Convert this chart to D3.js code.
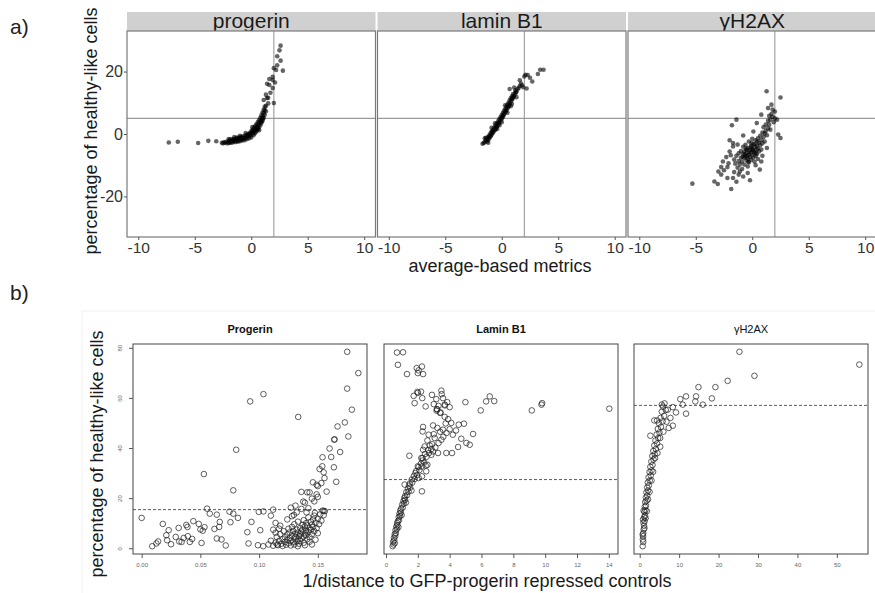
<html>
<head>
<script src="https://d3js.org/d3.v7.min.js"></script>
<style>
body { margin: 0; background: #fff; }
svg { font-family: "Liberation Sans", Arial, sans-serif; }
</style>
</head>
<body>
<svg class="chart" width="875" height="593"></svg>
<script>
// ---- panel a: average-based metrics ----
const facetsA = ["progerin", "lamin B1", "\u03b3H2AX"];
const xTicksA = [-10, -5, 0, 5, 10];
const yTicksA = [-20, 0, 20];
const vlineA = 2, hlineA = 5;

const progerinA = [[-7.3,-2.7],[-6.5,-2.5],[-4.7,-2.9],[-3.8,-2.2],[-3.1,-2.3],[-2.6,-2.8],[-2.5,-3.0],[-2.4,-2.6],
[-2.3,-2.9],[-2.2,-2.5],[-2.1,-3.0],[-2.0,-2.2],[-2.0,-2.7],[-1.9,-2.9],[-1.9,-2.0],[-1.8,-2.4],[-1.8,-1.6],[-1.7,-2.8],[-1.7,-2.1],[-1.6,-1.8],[-1.6,-2.5],[-1.5,-2.2],[-1.5,-1.5],[-1.4,-2.6],[-1.4,-1.9],[-1.3,-1.4],[-1.3,-2.2],[-1.2,-1.7],[-1.2,-2.5],[-1.1,-1.2],[-1.1,-2.0],[-1.0,-1.5],[-1.0,-2.3],[-0.9,-0.9],[-0.9,-1.8],[-0.8,-1.3],[-0.8,-2.1],[-0.7,-0.7],[-0.7,-1.6],[-0.6,-1.1],[-0.6,-2.0],[-0.5,-0.4],[-0.5,-1.3],[-0.4,-0.8],[-0.4,-1.7],[-0.3,0.0],[-0.3,-1.0],[-0.2,-0.5],[-0.2,-1.4],[-0.1,0.4],[-0.1,-0.6],[0.0,0.9],[0.0,-0.2],[0.0,-1.1],[0.1,0.3],[0.1,1.3],[0.2,-0.4],[0.2,0.8],[0.2,1.8],[0.3,0.2],[0.3,1.2],[0.3,2.3],[0.4,0.6],[0.4,1.7],[0.4,2.8],[0.5,1.1],[0.5,2.2],[0.5,3.3],[0.6,1.6],[0.6,2.7],[0.6,3.9],[0.7,2.1],[0.7,3.3],[0.7,4.5],[0.8,2.8],[0.8,4.0],[0.8,5.2],[0.9,3.5],[0.9,4.8],[0.9,6.0],[1.0,4.3],[1.0,5.6],[1.0,6.9],[1.1,5.2],[1.1,6.6],[1.1,7.8],[1.2,6.2],[1.2,7.7],[1.2,8.8],[1.3,7.3],[1.3,9.0],[-1.0,-0.6],[-0.5,0.3],[-1.5,-1.0],[0.1,2.2],[-2.0,-1.6],[0.7,1.2],
[-0.85,-1.1],[-0.35,-0.3],[0.15,0.6],[0.55,1.9],[0.85,3.9],[1.05,5.0],[-1.25,-1.1],[-0.15,0.1],[0.45,1.4],[0.95,4.1],
[1.1,10.9],[1.3,12.6],[1.5,11.6],[1.4,11.5],[2.0,9.9],[1.9,14.7],[1.6,15.7],[1.4,16.1],[1.9,17.3],[1.6,17.6],[1.9,18.3],[2.0,21.1],[2.2,20.5],[2.8,20.3],[2.3,24.9],[2.6,23.5],[2.5,26.8],[2.6,28.3],[1.7,13.2],[2.1,16.5],[1.5,9.8],[2.3,22.0]];

const laminA = [[-1.7,-3.1],[-1.5,-2.6],[-1.4,-2.0],[-1.4,-1.2],[-1.3,-2.4],[-1.3,-1.5],[-1.2,-0.9],[-1.2,-1.9],[-1.1,-0.4],[-1.1,-1.4],[-1.0,-0.8],[-1.0,0.2],[-0.9,-0.2],[-0.9,0.8],[-0.8,0.3],[-0.8,1.2],[-0.7,0.8],[-0.7,1.8],[-0.6,1.3],[-0.6,2.4],[-0.5,2.0],[-0.5,3.0],[-0.4,2.5],[-0.4,3.6],[-0.3,3.2],[-0.3,4.2],[-0.2,3.7],[-0.2,4.9],[-0.1,4.4],[-0.1,5.4],[0.0,5.0],[0.0,6.1],[0.1,5.6],[0.1,6.7],[0.2,6.3],[0.2,7.4],[0.3,6.9],[0.3,8.0],[0.4,7.6],[0.4,8.7],[0.5,8.2],[0.5,9.4],[0.6,8.9],[0.6,10.0],[0.7,9.6],[0.7,10.8],[0.8,10.3],[0.8,11.4],[0.9,11.0],[0.9,12.1],[1.0,11.7],[1.0,12.8],[1.1,12.4],[1.2,13.1],[1.2,14.0],[1.3,13.6],[1.4,14.3],[1.5,14.8],[1.6,15.4],[1.7,16.2],[1.8,15.6],[-1.6,-2.9],[-0.6,3.4],[0.7,14.4],[-0.9,2.0],[0.3,9.2],[1.3,11.8],[0.9,9.6],[-0.2,2.8],
[-1.15,-1.1],[-0.85,0.5],[-0.55,1.6],[-0.25,3.5],[0.05,5.3],[0.35,7.3],[0.65,9.3],[0.95,11.3],[1.25,13.3],[-0.95,-0.5],[-0.45,2.4],[0.15,6.0],[0.55,8.6],[1.05,12.0],
[2.0,18.4],[2.3,18.9],[2.5,18.0],[2.1,19.0],[3.2,19.2],[3.4,20.6],[3.7,20.6],[2.7,16.8],[1.6,17.2],[2.2,14.6],[1.9,15.0],[-1.2,-2.8],[-0.4,1.6],[0.5,6.8],[1.1,14.9],[-1.5,-1.4],[0.0,3.8],[0.8,8.9]];

const h2axA = [[1.27,13.7],[2.5,11.7],[1.7,9.4],[1.4,8.3],[0.8,6.2],[2.0,7.2],[2.2,4.6],[-1.4,4.6],[-1.8,2.8],[0.4,3.5],[1.6,1.4],[2.3,-0.2],[2.5,-1.3],[-1.7,-2.9],[-1.3,-3.4],[-0.07,-2.9],[-0.5,-5],[0.4,-5],[-2.0,-5.6],[-1.6,-8.2],[-0.7,-7.7],[0.2,-6.1],[0.8,-8.8],[-2.6,-8.8],[-2.75,-10.6],[-2.2,-10.6],[-0.4,-10.4],[-1.1,-12],[-2.75,-13],[-2.2,-14.1],[-1.7,-14.1],[-0.8,-13.6],[-3.35,-15.2],[-3.05,-16],[-5.3,-15.9],[-1.86,-17.6],[0.67,-11.4],
[-1.5,-9.5],[-1.4,-7.0],[-1.3,-10.8],[-1.2,-6.2],[-1.2,-8.7],[-1.1,-9.8],[-1.0,-5.5],[-1.0,-7.6],[-0.9,-11.2],[-0.9,-8.9],[-0.8,-6.4],[-0.8,-4.1],[-0.7,-9.8],[-0.7,-5.6],[-0.6,-7.2],[-0.6,-3.5],[-0.5,-8.4],[-0.5,-6.1],[-0.4,-4.5],[-0.4,-7.8],[-0.3,-6.6],[-0.3,-2.4],[-0.3,-9.1],[-0.2,-5.2],[-0.2,-7.4],[-0.1,-3.8],[-0.1,-6.0],[-0.1,-8.3],[0.0,-4.7],[0.0,-6.8],[0.0,-1.5],[0.1,-5.5],[0.1,-7.6],[0.1,-3.2],[0.2,-4.2],[0.2,-8.9],[0.3,-5.9],[0.3,-2.0],[0.3,-7.0],[0.4,-3.8],[0.4,-6.5],[0.5,-1.4],[0.5,-4.6],[0.5,-8.0],[0.6,-2.8],[0.6,-5.6],[0.7,-0.6],[0.7,-3.6],[0.8,-1.9],[0.8,-5.0],[0.9,0.5],[0.9,-3.0],[1.0,-1.0],[1.0,2.2],[1.1,0.2],[1.1,-2.4],[1.2,3.0],[1.2,1.0],[1.3,-0.4],[1.4,4.2],[1.4,1.8],[1.5,5.8],[1.5,3.0],[1.6,4.6],[1.7,6.4],[1.8,5.5],[1.9,3.8],[1.8,7.8],[2.0,5.0],[-1.9,-6.8],[-2.1,-9.4],[-2.3,-7.4],[-1.6,-12.2],[-1.2,-13.0],[-0.4,-12.5],[-2.5,-11.6],[0.3,-10.0],[-1.7,-4.0],[-2.0,-2.0],[-0.8,-0.5],[0.1,0.8],[1.3,-4.5],[0.9,-7.0],[-3.0,-12.0],[-1.4,-15.3],[-0.2,-14.8],
[-0.65,-6.6],[-0.25,-5.8],[0.05,-5.1],[-0.45,-7.0],[-0.15,-4.3],[0.25,-3.3],[-0.55,-4.9],[-0.85,-7.3],[0.45,-2.4],[-0.35,-8.9]];

// ---- panel b: 1/distance to GFP-progerin repressed controls ----
const facetsB = ["Progerin", "Lamin B1", "\u03b3H2AX"];
const boldB = [true, true, false];
const thresholdsB = [15.4, 27.4, 57];
const yTicksB = [0, 20, 40, 60, 80];
const xTicksB = [[0, 0.05, 0.10, 0.15], [0, 2, 4, 6, 8, 10, 12, 14], [0, 10, 20, 30, 40, 50]];
const xFormatB = [".2f", "d", "d"];

const progerinB = [[0.0,12.1],[0.009,0.8],[0.0125,1.9],[0.014,2.7],[0.018,9.7],[0.021,5.2],[0.023,7.2],[0.0217,3.2],[0.025,1.6],[0.029,4.5],[0.0315,8.1],[0.032,2.7],[0.034,2.5],[0.0358,4.1],[0.038,9.3],[0.039,8.5],[0.0393,4.8],[0.041,2.5],[0.043,3.7],[0.044,10.8],[0.0486,9.7],[0.05,7.5],[0.051,2.1],[0.053,29.6],[0.0535,8.4],[0.052,7.0],[0.0557,15.8],[0.058,13.8],[0.062,7.7],[0.064,13.4],[0.064,3.9],[0.066,8.5],[0.0665,10.5],[0.068,3.5],[0.0716,1.1],[0.0748,14.6],[0.0756,10.4],[0.078,13.8],[0.078,23.1],[0.0805,39.3],[0.082,12.1],[0.09,6.4],[0.091,1.9],[0.0924,58.6],[0.0935,10.5],[0.099,1.2],[0.0997,14.5],[0.101,7.2],[0.1037,61.5],[0.1037,14.7],[0.1035,0.8],[0.11,13],[0.112,15.4],[0.112,7.4],[0.114,10.1],[0.1333,52.4],[0.1154,1.5],
[0.175,78.4],[0.1845,69.9],[0.175,63.7],[0.179,55.3],[0.173,50.2],[0.1668,48.6],[0.176,44.6],[0.164,43.3],[0.1642,43.5],[0.169,38.4],[0.16,39.8],[0.1614,36.4],[0.154,36.3],[0.1637,32.3],[0.1538,32.7],[0.1515,31.6],[0.155,30.3],[0.1557,28],[0.1657,26.5],[0.1575,22.6],[0.1458,26.3],[0.149,25.3],[0.15,20.5],[0.136,22.5],[0.143,22.3],[0.1376,18.6],[0.131,17],[0.147,18.7],[0.155,14.9],[0.155,13.2],[0.1475,14.1],[0.1296,13.3],[0.1404,14.3],
[0.108,1.5],[0.110,3.0],[0.112,1.0],[0.114,2.2],[0.115,4.5],[0.116,1.2],[0.117,2.9],[0.118,5.6],[0.119,1.8],[0.120,3.6],[0.120,0.9],[0.121,6.8],[0.122,2.5],[0.122,4.4],[0.123,1.4],[0.124,3.3],[0.124,5.5],[0.125,7.8],[0.125,2.0],[0.126,4.1],[0.126,6.3],[0.127,1.1],[0.127,3.0],[0.128,5.1],[0.128,8.5],[0.129,2.4],[0.129,6.9],[0.130,3.9],[0.130,1.5],[0.130,9.6],[0.131,5.8],[0.131,4.6],[0.132,2.7],[0.132,7.4],[0.133,3.5],[0.133,6.2],[0.133,10.6],[0.134,1.8],[0.134,4.9],[0.135,8.1],[0.135,5.5],[0.135,2.9],[0.136,6.7],[0.136,3.9],[0.137,9.3],[0.137,7.5],[0.138,4.7],[0.138,11.2],[0.138,2.2],[0.139,6.0],[0.139,8.7],[0.140,5.2],[0.140,7.0],[0.140,10.0],[0.141,3.6],[0.141,9.1],[0.142,6.5],[0.142,12.3],[0.143,8.0],[0.143,4.4],[0.144,10.6],[0.144,7.3],[0.145,9.4],[0.145,5.6],[0.146,11.5],[0.146,8.5],[0.147,6.8],[0.147,13.0],[0.148,10.2],[0.149,8.0],[0.150,11.8],[0.150,6.0],[0.151,9.6],[0.152,13.5],[0.153,11.0],[0.154,15.0],[0.118,9.0],[0.124,11.5],[0.128,12.8],[0.132,14.3],[0.127,16.2],[0.136,15.7],[0.139,18.2],[0.142,16.0],[0.145,19.8],[0.141,22.3],[0.149,21.5],[0.150,24.8],[0.153,26.0],[0.114,6.2],[0.117,7.8],[0.133,0.8],[0.139,1.2],[0.143,2.6],[0.145,1.5],[0.148,3.4],[0.156,14.8]];

const laminB = [[0.69,78.1],[1.07,78.2],[0.75,73.2],[1.32,69.5],[1.93,71.9],[2.26,72.5],[2.0,69.9],[2.33,69.5],[2.05,71],[1.97,62.4],[2.0,62.0],[1.74,60.8],[1.8,57.9],[2.28,59.9],[2.49,56.6],[2.89,61.2],[3.48,62.9],[3.16,59.5],[3.58,59.9],[3.85,58.3],[3.18,54.9],[3.22,55.4],[3.69,57.3],[4.0,56.3],[3.43,54.2],[3.69,52.4],[4.99,58.3],[5.95,55],[6.29,58.6],[6.52,60.6],[6.8,58.7],[9.16,55],[9.77,57.3],[9.81,57.9],[14.03,55.7],
[3.2,55.5],[3.3,56.8],[3.0,57.5],[3.5,61.5],[3.7,57.0],[3.4,54.0],[2.2,62.5],
[2.33,48.4],[2.3,46.6],[2.96,49],[3.23,48],[3.58,47.3],[4.1,50],[4.57,49.3],[4.9,49.7],[4.0,47.5],[4.2,45.3],[4.73,43.7],[5.05,42],[5.26,41.3],[5.47,45.6],[4.53,40.4],[3.79,38],[4.15,38],[2.68,45.3],[3.06,44],[3.48,43.3],[2.43,40.6],[2.33,39.3],[2.85,37.3],[3.27,38],[2.6,33.3],[2.22,36],[1.47,36.9],[2.0,32.7],[2.53,30.7],[2.26,28.7],[2.26,22.7],[1.17,25.4],
[3.0,45.5],[3.4,46.5],[3.8,46.0],[3.3,42.0],[2.9,41.5],[3.6,44.5],[4.4,47.0],[3.9,51.5],[3.75,49.8],[2.6,43.0],
[0.42,0.8],[0.47,1.5],[0.45,2.6],[0.52,3.2],[0.50,4.2],[0.58,4.8],[0.55,2.0],
[0.55,5.6],[0.62,6.0],[0.60,7.2],[0.68,7.6],[0.65,8.6],[0.72,9.2],[0.78,8.4],[0.70,10.0],
[0.75,10.8],[0.82,11.2],[0.80,12.4],[0.88,12.8],[0.85,13.8],[0.93,14.2],[0.98,13.2],[0.90,15.0],
[0.95,15.8],[1.05,16.2],[1.02,17.4],[1.12,17.8],[1.10,18.8],[1.20,19.3],[1.25,18.2],[1.15,20.0],
[1.20,20.8],[1.32,21.2],[1.28,22.4],[1.42,22.6],[1.38,23.8],[1.52,24.2],[1.60,23.0],[1.45,25.0],
[1.50,25.8],[1.65,26.2],[1.62,27.4],[1.80,27.6],[1.75,28.8],[1.95,29.2],[2.05,28.0],[1.85,30.0],
[1.90,30.8],[2.10,31.2],[2.05,32.4],[2.25,32.6],[2.20,33.8],[2.40,34.2],[2.50,33.0],[2.30,35.0],
[2.30,36.0],[2.55,36.5],[2.45,37.6],[2.70,38.0],[2.65,39.2],[2.85,39.6],[2.95,38.6],[2.75,41.0],[3.1,40.2]];

const h2axB = [[25.3,78.4],[55.7,73.3],[29.1,68.8],[22.3,66.8],[19.2,64.3],[14.9,64.3],[18.3,59.8],[14.3,60.6],[14.1,58.6],[16.0,57.3],[11.75,60.6],[10.3,59.5],[10.9,57.3],[11.75,53.7],
[0.76,0.8],[0.8,3.5],[0.85,4.8],[0.9,6.0],[0.75,5.5],[1.0,7.5],[1.1,9.0],[0.95,10.2],[1.25,10.8],[1.15,12.4],[1.35,13.0],[1.2,14.5],[1.45,15.2],[1.3,16.6],[1.6,17.0],[1.4,18.4],[1.75,19.0],[1.55,20.2],[1.9,21.0],[1.7,22.3],[2.1,23.0],[1.9,24.2],[2.3,25.0],[2.05,26.2],[2.55,27.0],[2.25,28.3],[2.8,29.0],[2.5,30.4],[3.0,31.0],[2.7,32.5],[3.25,33.2],[2.95,34.6],[3.5,35.4],[3.2,36.8],[3.8,37.5],[3.45,38.8],[4.1,39.6],[3.7,41.0],[4.4,41.8],[4.0,43.0],[4.7,44.0],[4.3,45.4],[5.0,46.2],[4.6,47.6],[5.4,48.4],[4.9,49.8],[5.8,50.6],[5.3,52.0],[6.2,52.8],[5.6,54.5],[6.6,55.2],[5.9,56.5],[3.7,51.0],[4.4,51.0],[2.7,44.9],[5.6,57.3],[7.1,55.3],[8.4,56.3],[9.2,54.2],[8.4,48.9],[7.35,48.0],[6.8,50.5],[7.8,52.0],[6.0,46.5],[5.2,44.0],[3.9,36.0],[2.1,19.5],[1.5,12.0],[1.2,8.0],[0.9,2.5],[3.0,27.0],[1.0,15.0],[0.85,11.5],[6.3,57.8],[5.2,40.5],[4.5,38.0],[3.4,30.5],[2.5,22.5],[1.8,14.8]];

const dataA = [progerinA, laminA, h2axA];
const dataB = [progerinB, laminB, h2axB];

const svg = d3.select(".chart");
const minus = d => d < 0 ? "-" + Math.abs(d) : String(d);

// ===== a) =====
const aLeft = [127, 377.5, 628], aW = 248.5, aTop = 31, aH = 206, stripTop = 12;
const xA = d3.scaleLinear().domain([-11, 11]).range([0, aW]);
const yA = d3.scaleLinear().domain([-33, 33]).range([aH, 0]);

facetsA.forEach(function(name, i) {
  const g = svg.append("g").attr("transform", "translate(" + aLeft[i] + ",0)");
  g.append("rect").attr("x", 0).attr("y", stripTop).attr("width", aW).attr("height", aTop - stripTop)
    .attr("fill", "#d0d0d0");
  g.append("text").attr("x", aW / 2).attr("y", 27.5).attr("text-anchor", "middle")
    .attr("font-size", 21).attr("fill", "#1a1a1a").text(name);
  const p = g.append("g").attr("transform", "translate(0," + aTop + ")");
  p.append("rect").attr("width", aW).attr("height", aH).attr("fill", "#fff");
  p.append("line").attr("x1", 0).attr("x2", aW).attr("y1", yA(hlineA)).attr("y2", yA(hlineA))
    .attr("stroke", "#9a9a9a").attr("stroke-width", 1.1);
  p.append("line").attr("x1", xA(vlineA)).attr("x2", xA(vlineA)).attr("y1", 0).attr("y2", aH)
    .attr("stroke", "#9a9a9a").attr("stroke-width", 1.1);
  p.selectAll("circle").data(dataA[i]).enter().append("circle")
    .attr("cx", d => xA(d[0])).attr("cy", d => yA(d[1])).attr("r", 2.3)
    .attr("fill", "#000").attr("fill-opacity", 0.6);
  p.append("rect").attr("width", aW).attr("height", aH).attr("fill", "none")
    .attr("stroke", "#7a7a7a").attr("stroke-width", 1.2);

  const ax = p.append("g").attr("transform", "translate(0," + aH + ")")
    .call(d3.axisBottom(xA).tickValues(xTicksA).tickFormat(minus).tickSize(3).tickPadding(1.5));
  ax.select(".domain").remove();
  ax.selectAll("line").attr("stroke", "#555");
  ax.selectAll("text").attr("font-size", 15.5).attr("fill", "#333").attr("font-family", null);

  if (i === 0) {
    const ay = p.append("g")
      .call(d3.axisLeft(yA).tickValues(yTicksA).tickFormat(minus).tickSize(3).tickPadding(1));
    ay.select(".domain").remove();
    ay.selectAll("line").attr("stroke", "#555");
    ay.selectAll("text").attr("font-size", 16).attr("fill", "#333").attr("font-family", null);
  }
});

svg.append("text").attr("x", 500).attr("y", 272).attr("text-anchor", "middle")
  .attr("font-size", 18).attr("fill", "#1a1a1a").text("average-based metrics");
svg.append("text").attr("transform", "translate(97,131) rotate(-90)").attr("text-anchor", "middle")
  .attr("font-size", 18).attr("fill", "#1a1a1a").text("percentage of healthy-like cells");
svg.append("text").attr("x", 10).attr("y", 34).attr("font-size", 21).attr("fill", "#222").text("a)");

// ===== b) =====
svg.append("rect").attr("x", 82).attr("y", 311).attr("width", 800).attr("height", 300)
  .attr("fill", "none").attr("stroke", "#f1f1f1");

const bLeft = [133, 384, 634], bW = 234, bTop = 344, bH = 210;
const allY = dataB.flat().map(d => d[1]);
const padR = (lo, hi) => [lo - (hi - lo) * 0.04, hi + (hi - lo) * 0.04];
const yB = d3.scaleLinear().domain(padR(d3.min(allY), d3.max(allY))).range([bH, 0]);

facetsB.forEach(function(name, i) {
  const ext = d3.extent(dataB[i], d => d[0]);
  const xB = d3.scaleLinear().domain(padR(ext[0], ext[1])).range([0, bW]);
  const g = svg.append("g").attr("transform", "translate(" + bLeft[i] + "," + bTop + ")");

  g.append("text").attr("x", bW / 2).attr("y", -11).attr("text-anchor", "middle")
    .attr("font-size", 11).attr("font-weight", boldB[i] ? "bold" : "normal")
    .attr("fill", "#111").text(name);

  g.append("line").attr("x1", 0).attr("x2", bW).attr("y1", yB(thresholdsB[i])).attr("y2", yB(thresholdsB[i]))
    .attr("stroke", "#333").attr("stroke-width", 0.8).attr("stroke-dasharray", "3,2");

  g.selectAll("circle").data(dataB[i]).enter().append("circle")
    .attr("cx", d => xB(d[0])).attr("cy", d => yB(d[1])).attr("r", 2.8)
    .attr("fill", "none").attr("stroke", "#222").attr("stroke-opacity", 0.85).attr("stroke-width", 0.85);

  g.append("rect").attr("width", bW).attr("height", bH).attr("fill", "none")
    .attr("stroke", "#444").attr("stroke-width", 1);

  const ax = g.append("g").attr("transform", "translate(0," + bH + ")")
    .call(d3.axisBottom(xB).tickValues(xTicksB[i]).tickFormat(d3.format(xFormatB[i])).tickSize(4).tickPadding(5));
  ax.select(".domain").remove();
  ax.selectAll("line").attr("stroke", "#555");
  ax.selectAll("text").attr("font-size", 6).attr("fill", "#666").attr("font-family", null);

  if (i === 0) {
    const ay = g.append("g")
      .call(d3.axisLeft(yB).tickValues(yTicksB).tickSize(4).tickFormat(d3.format("d")));
    ay.select(".domain").remove();
    ay.selectAll("line").attr("stroke", "#555");
    ay.selectAll("text").attr("font-size", 6).attr("fill", "#666").attr("font-family", null)
      .attr("text-anchor", "middle").attr("x", 0).attr("dy", 0)
      .attr("transform", "translate(-11,0) rotate(-90)");
  }
});

svg.append("text").attr("x", 487).attr("y", 587).attr("text-anchor", "middle")
  .attr("font-size", 18).attr("fill", "#1a1a1a").text("1/distance to GFP-progerin repressed controls");
svg.append("text").attr("transform", "translate(103,454) rotate(-90)").attr("text-anchor", "middle")
  .attr("font-size", 18).attr("fill", "#1a1a1a").text("percentage of healthy-like cells");
svg.append("text").attr("x", 10).attr("y", 300).attr("font-size", 21).attr("fill", "#222").text("b)");
</script>
</body>
</html>
